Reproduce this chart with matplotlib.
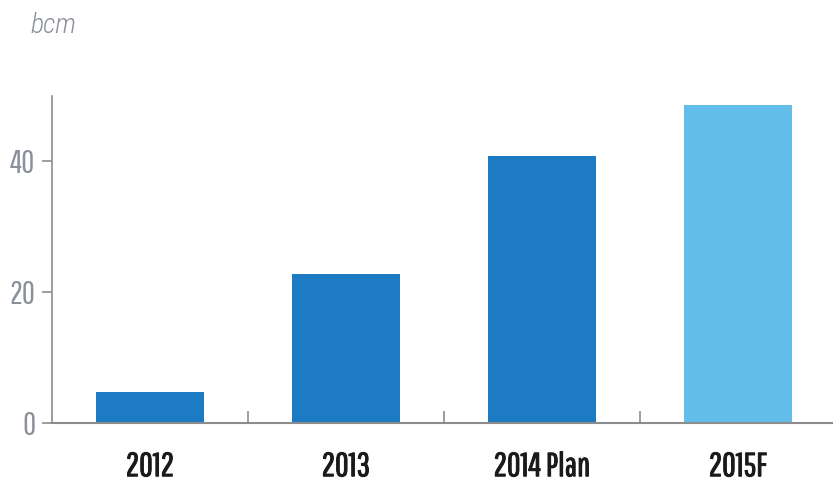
import numpy as np
import matplotlib.pyplot as plt
import matplotlib.patheffects as pe
from matplotlib import font_manager

categories = ['2012', '2013', '2014 Plan', '2015F']
volumes = [4.7, 22.7, 40.8, 48.6]
bar_colors = ['#1c7bc2', '#1c7bc2', '#1c7bc2', '#62bde9']
y_ticks = [0, 20, 40]

# narrow faces, with fallbacks
names = {f.name for f in font_manager.fontManager.ttflist}
narrow = [f for f in ['Pathway Gothic One', 'Roboto Condensed'] if f in names] + ['DejaVu Sans']
italic = [f for f in ['Roboto Condensed'] if f in names] + ['DejaVu Sans']
plt.rcParams['font.family'] = narrow

fig = plt.figure(figsize=(8.33, 4.84), dpi=100)
ax = fig.add_axes([0.0624, 0.126, 0.9376, 0.676])

x = np.arange(len(categories))
ax.bar(x, volumes, width=0.55, color=bar_colors, zorder=2)

ax.set_xlim(-0.5, 3.485)
ax.set_ylim(0, 50)

for side in ['top', 'right']:
    ax.spines[side].set_visible(False)
ax.spines['left'].set_color('#8c8c8c')
ax.spines['bottom'].set_color('#8c8c8c')
ax.spines['left'].set_linewidth(1.2)
ax.spines['bottom'].set_linewidth(1.5)

ax.set_yticks(y_ticks)
ax.tick_params(axis='y', length=7, width=1.2, color='#8c8c8c',
               labelsize=23, labelcolor='#8a909a', pad=5)

ax.set_xticks(x)
ax.set_xticklabels(categories, fontsize=24, color='#1a1a1a')
ax.tick_params(axis='x', length=0, pad=21)
# heavier category labels
for lbl in ax.get_xticklabels():
    lbl.set_path_effects([pe.withStroke(linewidth=0.7, foreground='#1a1a1a')])
ax.set_xticks(x[:-1] + 0.5, minor=True)
ax.tick_params(axis='x', which='minor', direction='in', length=9,
               width=1.2, color='#8c8c8c')

fig.text(0.036, 0.948, 'bcm', fontsize=20, style='italic', fontweight='light',
         color='#8a909a', family=italic, ha='left', va='center')

fig.savefig('out.png', dpi=100)
